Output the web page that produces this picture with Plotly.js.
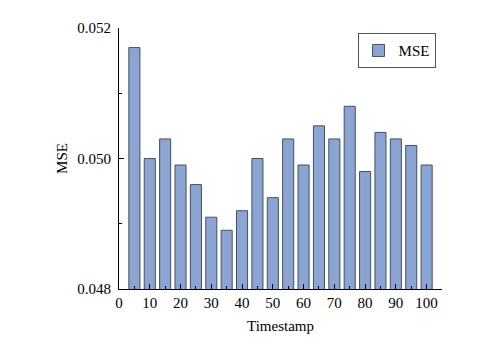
<!DOCTYPE html>
<html>
<head>
<meta charset="utf-8">
<script src="https://cdn.plot.ly/plotly-3.0.1.min.js"></script>
<style>
  html, body { margin: 0; padding: 0; background: #fff; }
  #chart { width: 483px; height: 349px; }
</style>
</head>
<body>
<div id="chart"></div>
<script>
// timestamps and the MSE
const timestamps = [5, 10, 15, 20, 25, 30, 35, 40, 45, 50, 55, 60, 65, 70, 75, 80, 85, 90, 95, 100];
const mseValues = [0.0517, 0.0500, 0.0503, 0.0499, 0.0496, 0.0491, 0.0489, 0.0492, 0.0500, 0.0494,
                   0.0503, 0.0499, 0.0505, 0.0503, 0.0508, 0.0498, 0.0504, 0.0503, 0.0502, 0.0499];
const yTicks = [0.048, 0.050, 0.052];
const yTickLabels = ['0.048', '0.050', '0.052'];

const serif = 'Liberation Serif, Times New Roman, serif';

var trace = {
    x: timestamps,
    y: mseValues,
    type: 'bar',
    name: 'MSE',
    width: 3.6,
    marker: {
        color: 'rgb(139,165,211)',
        line: { color: 'rgb(70,78,96)', width: 1 }
    }
};

var layout = {
    width: 483,
    height: 349,
    margin: { l: 119, r: 41, t: 28, b: 60 },
    paper_bgcolor: '#fff',
    plot_bgcolor: '#fff',
    font: { family: serif, size: 15, color: '#000' },
    showlegend: true,
    legend: {
        x: 0.98, y: 0.98, xanchor: 'right', yanchor: 'top',
        bordercolor: '#555', borderwidth: 1,
        font: { family: serif, size: 15 }
    },
    xaxis: {
        range: [0, 105],
        tickvals: [0, 10, 20, 30, 40, 50, 60, 70, 80, 90, 100],
        ticks: 'inside', ticklen: 5, tickcolor: '#000',
        minor: { dtick: 5, ticks: 'inside', ticklen: 3, tickcolor: '#000' },
        showline: true, linecolor: '#000', linewidth: 1,
        showgrid: false, zeroline: false,
        title: { text: 'Timestamp', font: { family: serif, size: 15 }, standoff: 10 }
    },
    yaxis: {
        range: [0.048, 0.052],
        tickvals: yTicks, ticktext: yTickLabels,
        ticks: 'inside', ticklen: 5, tickcolor: '#000',
        ticklabelstandoff: 4,
        minor: { tickvals: [0.049, 0.051], ticks: 'inside', ticklen: 3, tickcolor: '#000' },
        showline: true, linecolor: '#000', linewidth: 1,
        showgrid: false, zeroline: false,
        title: { text: 'MSE', font: { family: serif, size: 15 }, standoff: 6 }
    }
};

Plotly.newPlot('chart', [trace], layout, { displayModeBar: false, staticPlot: true });
</script>
</body>
</html>
